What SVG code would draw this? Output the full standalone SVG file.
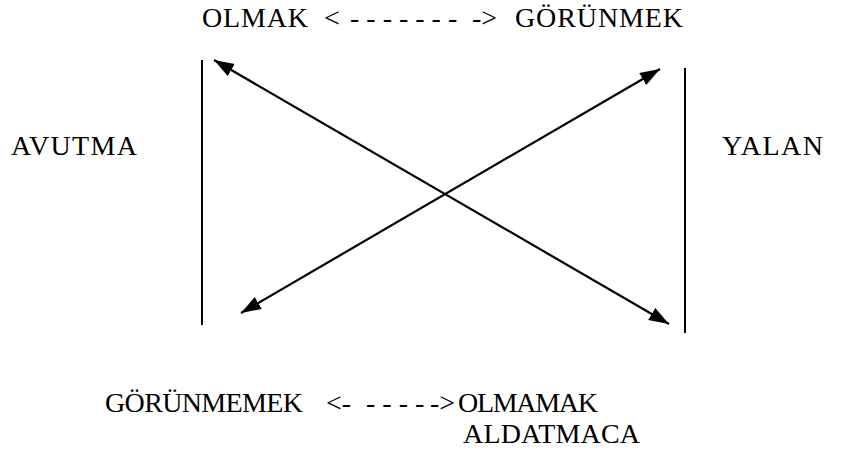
<svg xmlns="http://www.w3.org/2000/svg" width="846" height="464" viewBox="0 0 846 464">
<style>
.t{font-family:'Liberation Serif','Times New Roman',serif;font-size:28px;fill:#000}
.bar{stroke:#000;stroke-width:2;fill:none}
.arr{stroke:#000;stroke-width:2.2;fill:none;marker-start:url(#ah);marker-end:url(#ah)}
</style>
<defs>
<marker id="ah" markerUnits="userSpaceOnUse" markerWidth="22" markerHeight="16" refX="20" refY="7" orient="auto-start-reverse" viewBox="0 0 22 16">
<path d="M0,0 L20,7 L0,14 z" fill="#000"/>
</marker>
</defs>
<rect width="846" height="464" fill="#fff"/>
<g id="top-label" class="t">
<text x="202" y="27" textLength="106">OLMAK</text>
<text x="324" y="27">&lt;</text>
<text x="350" y="27">- - - - - - -</text>
<text x="472" y="27">-&gt;</text>
<text x="515" y="27" textLength="168">GÖRÜNMEK</text>
</g>
<g id="avutma" class="t"><text x="11" y="155" textLength="126">AVUTMA</text></g>
<g id="yalan" class="t"><text x="722" y="155" textLength="101">YALAN</text></g>
<g id="bottom-label" class="t">
<text x="105" y="412" textLength="198">GÖRÜNMEMEK</text>
<text x="326" y="412">&lt;-</text>
<text x="366" y="412">- - - -</text>
<text x="430" y="412">-&gt;</text>
<text x="458" y="412" textLength="140">OLMAMAK</text>
</g>
<g id="aldatmaca" class="t"><text x="463" y="443" textLength="177">ALDATMACA</text></g>
<g id="connectors">
<line class="bar" x1="202" y1="60" x2="202" y2="325"/>
<line class="bar" x1="685" y1="68" x2="685" y2="333"/>
<line class="arr" x1="214" y1="60" x2="669" y2="324"/>
<line class="arr" x1="660" y1="69" x2="241" y2="313"/>
</g>
</svg>
